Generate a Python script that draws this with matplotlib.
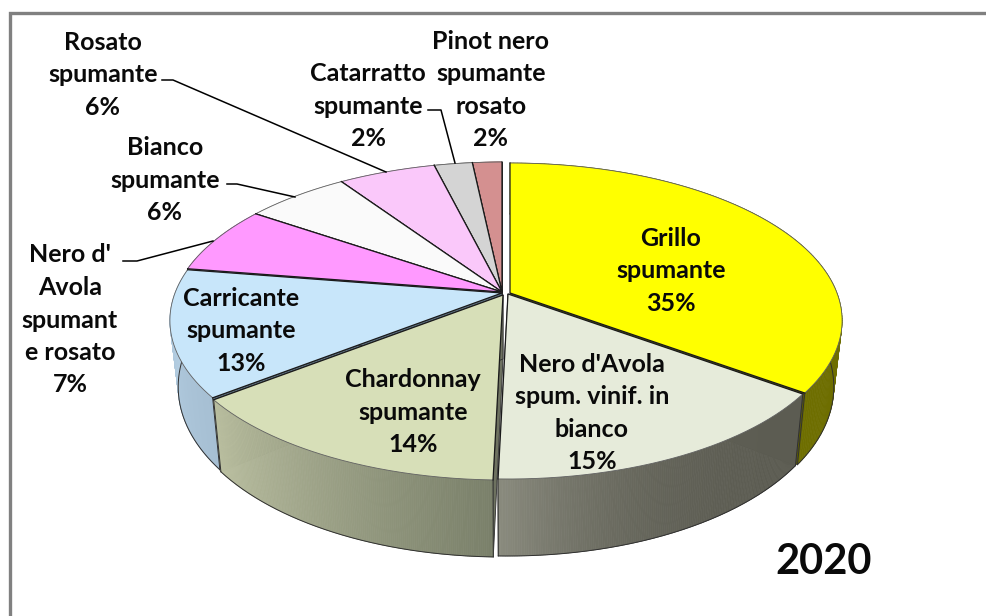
import numpy as np
import matplotlib
matplotlib.use('Agg')
import matplotlib.pyplot as plt
from matplotlib.patches import Polygon
from matplotlib.colors import to_rgb

nomi = ['Grillo\nspumante\n35%',
        "Nero d'Avola\nspum. vinif. in\nbianco\n15%",
        'Chardonnay\nspumante\n14%',
        'Carricante\nspumante\n13%',
        "Nero d'\nAvola\nspumant\ne rosato\n7%",
        'Bianco\nspumante\n6%',
        'Rosato\nspumante\n6%',
        'Catarratto\nspumante\n2%',
        'Pinot nero\nspumante\nrosato\n2%']
quote = [35.0, 15.4, 14.1, 13.0, 7.0, 6.0, 5.6, 2.2, 1.7]

colori = ['#FFFF00', '#E6EBDA', '#D7DFB8', '#C8E6FA', '#FF99FF', '#FAFAFA', '#FAC8FA', '#D4D4D4', '#D49090']
lato_a = ['#6E6E00', '#5C5C52', '#7A806A', '#A6BFD3', '#C070C0', '#C8C8C8', '#C8A0C8', '#A0A0A0', '#A06C6C']
lato_b = ['#6E6E00', '#8A8B7E', '#BABFA0', '#B8D2E6', '#C070C0', '#C8C8C8', '#C8A0C8', '#A0A0A0', '#A06C6C']
taglio = ['#5E5E00', '#6A6B60', '#6E7260', '#5F7484', '#803080', '#909090', '#906C90', '#707070', '#704848']
curva = [1, 3, 1, 1, 1, 1, 1, 1, 1]

# spostamento delle fette (pixel)
scarto = [(6, 1), (4, 2), (-1, 3), (-2, 1), (-2, 0), (-2, 0), (-2, 0), (-2, 0), (-2, 0)]

# posizione delle etichette (pixel)
etich_x = [671, 592, 413, 241, 70, 165, 103, 368, 491]
etich_y = [271, 413, 412, 331, 320, 180, 75, 106, 90]

# linee guida (pixel)
guide = [[(123, 261), (137, 261), (213, 241)],
         [(227, 184), (237, 184), (295, 197)],
         [(162, 80), (173, 80), (386, 172)],
         [(428, 110), (441, 110), (455, 163)]]

cx, cy = 504, 292
R, S, k = 327, 152.7, 0.1746


def proietta(ang, r=1.0):
    # cerchio -> ellisse in prospettiva
    u = r * np.sin(ang)
    v = -r * np.cos(ang)
    d = 1 - k * v
    return R * u / d, S * v / d, v


def sotto(x, y, v):
    # faccia inferiore della fetta
    return x * 0.975, y + 64 + 13 * v


fig = plt.figure(figsize=(9.86, 6.16), dpi=100)
ax = fig.add_axes([0, 0, 1, 1])
ax.set_xlim(0, 986)
ax.set_ylim(616, 0)
ax.axis('off')

# cornice
ax.plot([10, 10, 986], [616, 13, 13], color='#808080', lw=2.4, solid_joinstyle='miter')

bordi = np.cumsum([0] + quote) / sum(quote) * 2 * np.pi
medi = (bordi[:-1] + bordi[1:]) / 2
ordine = np.argsort(-np.cos(medi))

z = 3
for i in ordine:
    dx, dy = scarto[i]
    px, py = cx + dx, cy + dy
    ang = np.linspace(bordi[i], bordi[i + 1], 160)
    x, y, v = proietta(ang)
    xb, yb = sotto(x, y, v)
    xc, yc = sotto(0, 0, 0)

    # facce del taglio
    for j in [0, -1]:
        ax.add_patch(Polygon([(px, py), (px + x[j], py + y[j]), (px + xb[j], py + yb[j]), (px + xc, py + yc)],
                             fc=taglio[i], ec='#303030', lw=0.6, zorder=z))

    # parete esterna sfumata
    c1, c2 = np.array(to_rgb(lato_a[i])), np.array(to_rgb(lato_b[i]))
    for j in range(len(ang) - 1):
        t = (j / (len(ang) - 2)) ** curva[i]
        col = c1 + (c2 - c1) * t
        ax.add_patch(Polygon([(px + x[j], py + y[j]), (px + x[j + 1], py + y[j + 1]),
                              (px + xb[j + 1], py + yb[j + 1]), (px + xb[j], py + yb[j])],
                             fc=col, ec=col, lw=0.5, zorder=z))
    ax.plot(px + xb, py + yb, color='#303030', lw=0.7, zorder=z)
    ax.plot([px + x[0], px + xb[0]], [py + y[0], py + yb[0]], color='#303030', lw=0.7, zorder=z)
    ax.plot([px + x[-1], px + xb[-1]], [py + y[-1], py + yb[-1]], color='#303030', lw=0.7, zorder=z)

    # faccia superiore: bordo esterno sottile, tagli scuri
    punti = [(px, py)] + list(zip(px + x, py + y))
    ax.add_patch(Polygon(punti, fc=colori[i], ec='none', zorder=z + 0.5))
    ax.plot(px + x, py + y, color='#606060', lw=0.6, zorder=z + 0.6)
    ax.plot([px + x[0], px, px + x[-1]], [py + y[0], py, py + y[-1]], color='#1A1A1A', lw=0.9, zorder=z + 0.6)
    z += 1

for g in guide:
    ax.plot([p[0] for p in g], [p[1] for p in g], color='black', lw=1.1, zorder=z)

for testo, tx, ty in zip(nomi, etich_x, etich_y):
    ax.text(tx, ty, testo, ha='center', va='center', family='Lato', weight='bold',
            fontsize=18, color='#0A0A0A', linespacing=1.5, zorder=z + 1)

ax.text(824, 562, '2020', ha='center', va='center', family='Lato', weight='bold', fontsize=30, color='#0A0A0A',
        zorder=z + 1)

fig.savefig('out.png', dpi=100)
